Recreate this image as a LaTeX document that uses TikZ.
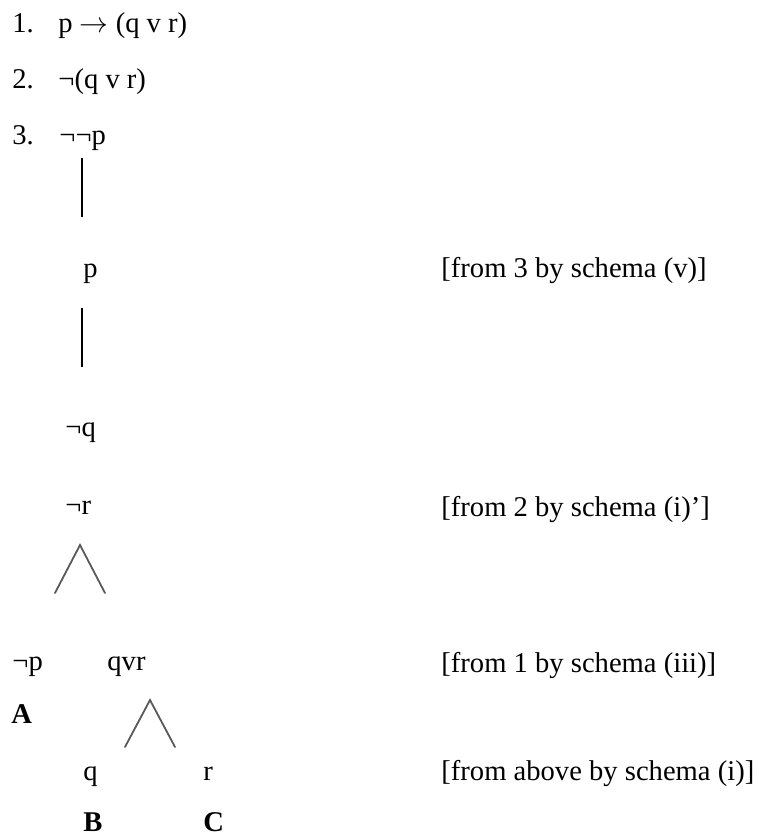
\documentclass[tikz,border=0pt]{standalone}
\usepackage{fontspec}
\setmainfont{Liberation Serif}
\usepackage{tikz}
\usetikzlibrary{positioning}

\begin{document}
\begin{tikzpicture}[
    x=0.5pt, y=-0.5pt,
    formula/.style={anchor=base west, inner sep=0pt, font=\fontsize{14.3}{17}\selectfont},
    note/.style={formula},
    tag/.style={formula, font=\fontsize{14.3}{17}\selectfont\bfseries},
    stem/.style={line width=0.9pt},
    fork/.style={line width=0.9pt, black!65, line cap=round},
  ]
    \useasboundingbox (0,0) rectangle (762,838);
    % premises
    \node[formula] (n1) at (12,33)  {1.};
    \node[formula] (f1) at (58,33)  {p $\rightarrow$ (q v r)};
    \node[formula] (n2) at (12,89)  {2.};
    \node[formula] (f2) at (58,89)  {¬(q v r)};
    \node[formula] (n3) at (12,145) {3.};
    \node[formula] (f3) at (59,145) {¬¬p};
    % trunk
    \coordinate (s1a) at (82,158);
    \coordinate (s1b) at (82,217);
    \draw[stem] (s1a) -- (s1b);
    \node[formula] (p) at (83,278) {p};
    \node[note] (r1) at (441,278) {[from 3 by schema (v)]};
    \coordinate (s2a) at (82,308);
    \coordinate (s2b) at (82,367);
    \draw[stem] (s2a) -- (s2b);
    \node[formula] (nq) at (65,437) {¬q};
    \node[formula] (nr) at (65,514) {¬r};
    \node[note] (r2) at (441,516) {[from 2 by schema (i)’]};
    % first branching
    \coordinate (b1l) at (55,593);
    \coordinate (b1t) at (80,545);
    \coordinate (b1r) at (105,593);
    \draw[fork] (b1l) -- (b1t) -- (b1r);
    \node[formula] (np) at (12,670)  {¬p};
    \node[formula] (qvr) at (107,670) {qvr};
    \node[note] (r3) at (441,672) {[from 1 by schema (iii)]};
    \node[tag] (A) at (11,723) {A};
    % second branching
    \coordinate (b2l) at (125,747);
    \coordinate (b2t) at (150,700);
    \coordinate (b2r) at (175,747);
    \draw[fork] (b2l) -- (b2t) -- (b2r);
    \node[formula] (q) at (83,780)  {q};
    \node[formula] (r) at (203,780) {r};
    \node[note] (r4) at (441,780) {[from above by schema (i)]};
    \node[tag] (B) at (83,831)  {B};
    \node[tag] (C) at (203,831) {C};
\end{tikzpicture}
\end{document}
